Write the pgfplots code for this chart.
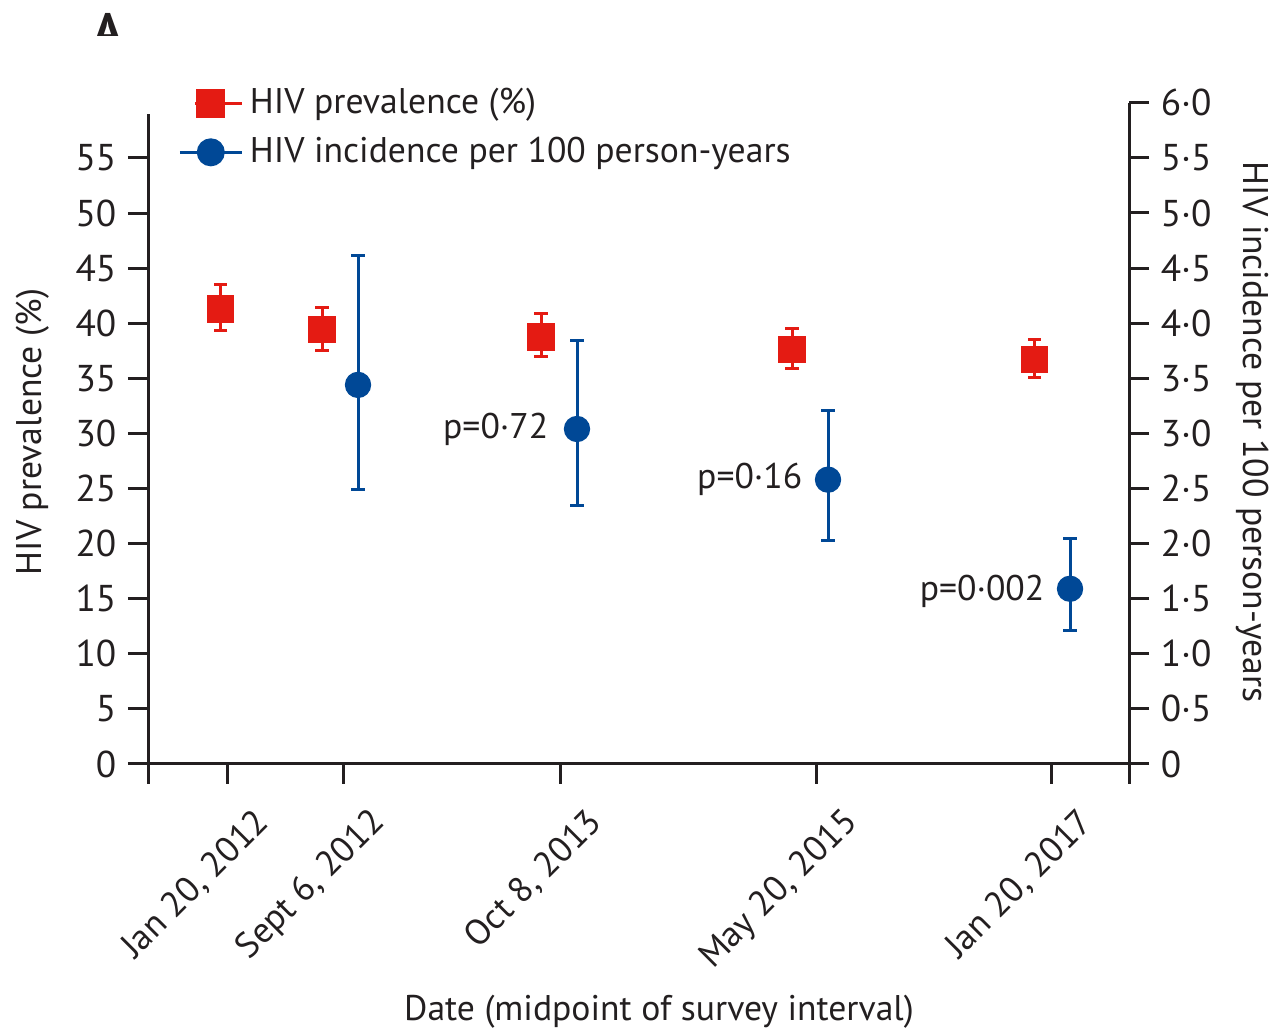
\documentclass[border=0pt]{standalone}
\usepackage{pgfplots}
\pgfplotsset{compat=1.18}
\usepackage{fontspec}
\setmainfont{PT Sans}
\definecolor{hivred}{RGB}{228,27,19}
\definecolor{hivblue}{RGB}{0,72,150}
\definecolor{txt}{RGB}{35,31,32}
\newcommand{\lblfont}{\fontsize{10.7}{12.5}\selectfont}
\newcommand{\tckfont}{\fontsize{11.2}{13}\selectfont}
\pgfplotsset{
  shortleg/.style={legend image code/.code={\draw[mark repeat=2,mark phase=2,##1] plot coordinates {(4.5pt,0pt) (9.3pt,0pt) (18.6pt,0pt)};}},
  longleg/.style={legend image code/.code={\draw[mark repeat=2,mark phase=2,##1] plot coordinates {(0pt,0pt) (9.3pt,0pt) (18.6pt,0pt)};}},
}
\begin{document}
\begin{tikzpicture}
\useasboundingbox (-44.4pt,-80.1pt) rectangle (337.8pt,229.2pt);
\begin{scope}
\clip (-30pt,218.4pt) rectangle (10pt,240pt);
\node[font=\bfseries\fontsize{14.5}{16}\selectfont, text=txt, anchor=north, inner sep=0pt] at (-12pt,225.5pt) {A};
\end{scope}
% left axis: prevalence
\begin{axis}[
  at={(0,0)}, anchor=south west,
  scale only axis, width=294.3pt, height=195.05pt,
  xmin=0, xmax=981, ymin=0, ymax=59,
  clip=false,
  axis y line*=left, axis x line*=bottom,
  axis line style={line width=0.9pt, txt, -},
  every tick/.style={line width=0.9pt, txt},
  tick align=outside, major tick length=6pt,
  xtick={79,195,412,668,903},
  xticklabels={{Jan 20, 2012},{Sept 6, 2012},{Oct 8, 2013},{May 20, 2015},{Jan 20, 2017}},
  extra x ticks={0,981}, extra x tick labels={},
  extra x tick style={every tick/.style={line width=0.9pt, txt}},
  xticklabel style={rotate=45, anchor=east, font=\lblfont, text=txt, xshift=4.2pt, yshift=-14.8pt},
  ytick={0,5,...,55},
  yticklabels={0,5,10,15,20,25,30,35,40,45,50,55},
  yticklabel style={font=\tckfont, text=txt},
  xlabel={Date (midpoint of survey interval)},
  xlabel style={at={(axis description cs:0.5209,-0.3814)}, anchor=center, font=\lblfont, text=txt},
  ylabel={HIV prevalence (\%)},
  ylabel style={at={(axis description cs:-0.1172,0.5106)}, anchor=center, font=\lblfont, text=txt},
]
\addplot[only marks, mark=square*, mark size=3.9pt, color=hivred,
  error bars/.cd, y dir=both, y explicit,
  error bar style={line width=0.9pt, hivred},
  error mark options={rotate=90, line width=0.9pt, hivred, mark size=2pt}]
coordinates {
  (72.7,41.3) += (0,2.2) -= (0,2.0)
  (174,39.4) += (0,2.0) -= (0,1.9)
  (393,38.75) += (0,2.1) -= (0,1.8)
  (644,37.6) += (0,1.95) -= (0,1.75)
  (886.5,36.7) += (0,1.8) -= (0,1.65)
};
\end{axis}
% right axis: incidence
\begin{axis}[
  at={(0,0)}, anchor=south west,
  scale only axis, width=294.3pt, height=198.36pt,
  xmin=0, xmax=981, ymin=0, ymax=6,
  clip=false,
  axis y line*=right, axis x line=none,
  axis line style={line width=0.9pt, txt, -},
  every tick/.style={line width=0.9pt, txt},
  tick align=outside, major tick length=6pt,
  ytick={0,0.5,...,6},
  yticklabels={0,0·5,1·0,1·5,2·0,2·5,3·0,3·5,4·0,4·5,5·0,5·5,6·0},
  yticklabel style={font=\tckfont, text=txt},
  ylabel={HIV incidence per 100 person-years},
  ylabel style={at={(axis description cs:1.1254,0.502)}, anchor=center, rotate=180, font=\lblfont, text=txt},
  legend style={at={(axis description cs:0.02,1.043)}, anchor=north west, draw=none, fill=none, font=\lblfont, text=txt, row sep=1.5pt},
  legend cell align=left,
]
\addlegendimage{shortleg, hivred, line width=0.9pt, mark=square*, mark size=3.9pt}
\addlegendentry{HIV prevalence (\%)}
\addlegendimage{longleg, hivblue, line width=0.9pt, mark=*, mark size=3.75pt}
\addlegendentry{HIV incidence per 100 person-years}
\addplot[only marks, mark=*, mark size=3.75pt, color=hivblue, forget plot,
  error bars/.cd, y dir=both, y explicit,
  error bar style={line width=0.9pt, hivblue},
  error mark options={rotate=90, line width=0.9pt, hivblue, mark size=2pt}]
coordinates {
  (210,3.44) += (0,1.17) -= (0,0.95)
  (429,3.04) += (0,0.80) -= (0,0.69)
  (680,2.58) += (0,0.63) -= (0,0.55)
  (922,1.59) += (0,0.46) -= (0,0.38)
};
\node[anchor=east, inner sep=0pt, font=\lblfont, text=txt] at (axis cs:401,3.04) {p=0·72};
\node[anchor=east, inner sep=0pt, font=\lblfont, text=txt] at (axis cs:655,2.58) {p=0·16};
\node[anchor=east, inner sep=0pt, font=\lblfont, text=txt] at (axis cs:897,1.57) {p=0·002};
\end{axis}
\end{tikzpicture}
\end{document}
